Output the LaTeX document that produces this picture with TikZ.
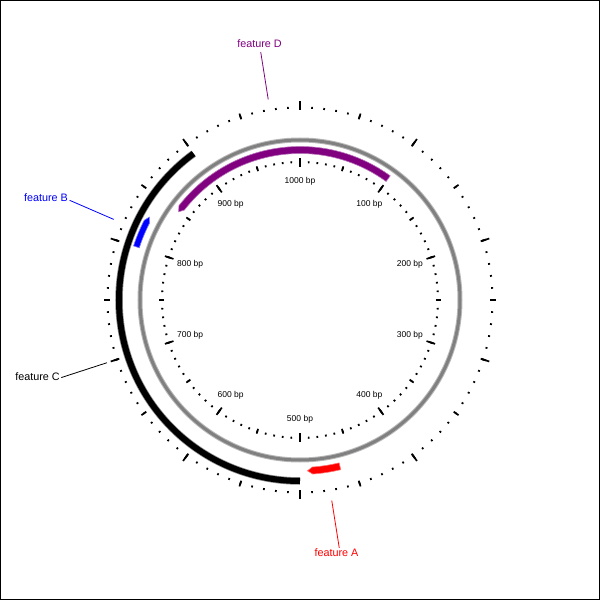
\documentclass[tikz,border=0pt]{standalone}
\usepackage{fontspec}
\setmainfont{Liberation Sans}
\usetikzlibrary{calc}
\definecolor{cpurple}{HTML}{800080}
\definecolor{cblue}{HTML}{0000FF}
\definecolor{cred}{HTML}{FF0000}
\definecolor{cgrey}{HTML}{808080}
\tikzset{
  every picture/.style={x=1pt, y=1pt},
  tick/.style={line width=1.7pt},
  bplabel/.style={font=\fontsize{8.5}{10}\selectfont, inner sep=0pt},
  featlabel/.style={font=\fontsize{10.8}{13}\selectfont, inner sep=0pt},
  leader/.style={line width=0.8pt},
  feat/.style={fill=#1, draw=#1!55, line width=0.6pt},
}

\begin{document}
\begin{tikzpicture}
  \useasboundingbox (-300,-300) rectangle (300,300);
  % frame
  \draw[line width=1.5pt] (-299.25,-299.25) rectangle (299.25,299.25);
  % backbone
  \draw[cgrey!55, line width=5pt] (0,0) circle[radius=160pt];
  \draw[cgrey, line width=3pt] (0,0) circle[radius=160pt];
  % inner ruler
  \foreach \i in {0,...,99}
    \draw[tick] (90-3.6*\i:137) -- (90-3.6*\i:139);
  \foreach \i in {0,...,19}
    \draw[tick] (90-18*\i:135.5) -- (90-18*\i:140.5);
  \foreach \i in {0,...,9}
    \draw[tick] (90-36*\i:133) -- (90-36*\i:142);
  \foreach \b in {1,...,10} {
    \pgfmathsetmacro\ang{90-36*\b}
    \pgfmathsetmacro\rad{114+5*abs(sin(\ang))}
    \node[bplabel] (bp\b) at (\ang:\rad) {\b00 bp};
  }
  % outer ruler
  \foreach \i in {0,...,99}
    \draw[tick] (90-3.6*\i:191.5) -- (90-3.6*\i:193.5);
  \foreach \i in {0,...,19}
    \draw[tick] (90-18*\i:190) -- (90-18*\i:196);
  \foreach \i in {0,...,9}
    \draw[tick] (90-36*\i:191) -- (90-36*\i:199);
  % feature D
  \path[feat=cpurple] (54:153.5) arc[start angle=54, end angle=142.1, radius=153.5pt]
    -- (144:150) -- (142.1:146.5) arc[start angle=142.1, end angle=54, radius=146.5pt] -- cycle;
  % feature C
  \draw[black!45, line width=7.5pt] (-90:181) arc[start angle=-90, end angle=-234, radius=181pt];
  \draw[black, line width=6pt] (-90:181) arc[start angle=-90, end angle=-234, radius=181pt];
  % feature B
  \path[feat=cblue] (-198:175) arc[start angle=-198, end angle=-207.1, radius=175pt]
    -- (-208.8:172) -- (-207.1:169) arc[start angle=-207.1, end angle=-198, radius=169pt] -- cycle;
  % feature A
  \path[feat=cred] (-76.5:174.5) arc[start angle=-76.5, end angle=-85.8, radius=174.5pt]
    -- (-87.5:171) -- (-85.8:167.5) arc[start angle=-85.8, end angle=-76.5, radius=167.5pt] -- cycle;
  % labels
  \coordinate (dIn) at (99:203);
  \coordinate (dOut) at (99:251);
  \node[featlabel, text=cpurple] (labD) at (-40.5,256) {feature D};
  \draw[leader, cpurple] (dIn) -- (dOut);
  \coordinate (bIn) at (-203.4:203);
  \coordinate (bOut) at (-203.4:251);
  \node[featlabel, text=cblue] (labB) at (-254,102) {feature B};
  \draw[leader, cblue] (bIn) -- (bOut);
  \coordinate (cIn) at (-162:203);
  \coordinate (cOut) at (-162:251);
  \node[featlabel] (labC) at (-262.5,-77) {feature C};
  \draw[leader] (cIn) -- (cOut);
  \coordinate (aIn) at (-81:203);
  \coordinate (aOut) at (-81:251);
  \node[featlabel, text=cred] (labA) at (36.5,-253) {feature A};
  \draw[leader, cred] (aIn) -- (aOut);
\end{tikzpicture}
\end{document}
